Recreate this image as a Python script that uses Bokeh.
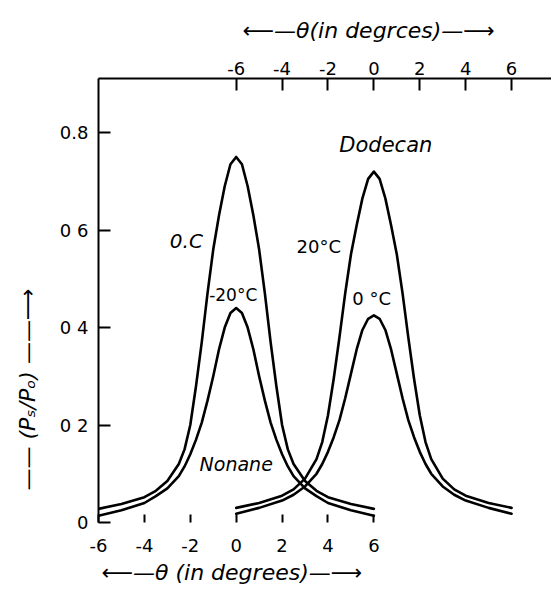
from bokeh.plotting import figure
from bokeh.models import LinearAxis, Range1d, FixedTicker, Label, Title
from bokeh.embed import file_html
from bokeh.resources import INLINE

# ---------------- data ----------------
nonane_theta = [-6, -5, -4, -3.5, -3, -2.5, -2.25, -2, -1.75, -1.5, -1.25, -1, -0.75, -0.5, -0.25, 0,
                0.25, 0.5, 0.75, 1, 1.25, 1.5, 1.75, 2, 2.25, 2.5, 3, 3.5, 4, 5, 6]
nonane_0C = [0.028, 0.038, 0.052, 0.065, 0.085, 0.12, 0.15, 0.20, 0.28, 0.37, 0.47, 0.56, 0.63, 0.69, 0.735, 0.75,
             0.735, 0.69, 0.63, 0.56, 0.47, 0.37, 0.28, 0.20, 0.15, 0.12, 0.085, 0.065, 0.052, 0.038, 0.028]
nonane_m20C = [0.014, 0.025, 0.04, 0.054, 0.07, 0.095, 0.115, 0.14, 0.17, 0.205, 0.25, 0.30, 0.355, 0.40, 0.43, 0.44,
               0.43, 0.40, 0.355, 0.30, 0.25, 0.205, 0.17, 0.14, 0.115, 0.095, 0.07, 0.054, 0.04, 0.025, 0.014]

dodecan_theta = [0, 1, 2, 2.5, 3, 3.5, 3.75, 4, 4.25, 4.5, 4.75, 5, 5.25, 5.5, 5.75, 6,
                 6.25, 6.5, 6.75, 7, 7.25, 7.5, 7.75, 8, 8.25, 8.5, 9, 9.5, 10, 11, 12]
dodecan_20C = [0.03, 0.04, 0.055, 0.068, 0.09, 0.13, 0.165, 0.22, 0.295, 0.38, 0.47, 0.55, 0.61, 0.665, 0.705, 0.72,
               0.705, 0.665, 0.61, 0.55, 0.47, 0.38, 0.295, 0.22, 0.165, 0.13, 0.09, 0.068, 0.055, 0.04, 0.03]
dodecan_0C = [0.018, 0.03, 0.045, 0.057, 0.074, 0.10, 0.12, 0.145, 0.175, 0.21, 0.255, 0.305, 0.355, 0.395, 0.418, 0.425,
              0.418, 0.395, 0.355, 0.305, 0.255, 0.21, 0.175, 0.145, 0.12, 0.10, 0.074, 0.057, 0.045, 0.03, 0.018]

bottom_ticks = [-6, -4, -2, 0, 2, 4, 6]
bottom_tick_labels = ["-6", "-4", "-2", "0", "2", "4", "6"]
top_ticks = [-6, -4, -2, 0, 2, 4, 6]
top_tick_labels = ["-6", "-4", "-2", "0", "2", "4", "6"]
y_ticks = [0, 0.2, 0.4, 0.6, 0.8]
y_tick_labels = ["0", "0 2", "0 4", "0 6", "0.8"]

# ---------------- figure ----------------
p = figure(width=551, height=590, output_backend="svg", toolbar_location=None,
           x_range=Range1d(-6, 13.74), y_range=Range1d(0, 0.911),
           x_axis_location=None, y_axis_location=None,
           min_border_left=97, min_border_right=0, min_border_top=78, min_border_bottom=68)
p.outline_line_color = None
p.grid.visible = False
p.background_fill_color = "white"
p.border_fill_color = "white"
p.extra_x_ranges = {"top": Range1d(-12, 7.74)}

FONT = "DejaVu Sans"

yax = LinearAxis(ticker=FixedTicker(ticks=y_ticks),
                 major_label_overrides={t: s for t, s in zip(y_ticks, y_tick_labels)},
                 major_tick_in=12, major_tick_out=0, minor_tick_line_color=None,
                 axis_line_width=2, major_tick_line_width=2,
                 major_label_text_font=FONT, major_label_text_font_size="18px",
                 major_label_text_color="black", major_label_standoff=10)
p.add_layout(yax, "left")

bax = LinearAxis(ticker=FixedTicker(ticks=bottom_ticks),
                 major_label_overrides={t: s for t, s in zip(bottom_ticks, bottom_tick_labels)},
                 major_tick_in=8, major_tick_out=0, minor_tick_line_color=None,
                 axis_line_color=None, major_tick_line_width=2,
                 major_label_text_font=FONT, major_label_text_font_size="18px",
                 major_label_text_color="black", major_label_standoff=16)
p.add_layout(bax, "below")

tax = LinearAxis(x_range_name="top", ticker=FixedTicker(ticks=top_ticks),
                 major_label_overrides={t: s for t, s in zip(top_ticks, top_tick_labels)},
                 major_tick_in=12, major_tick_out=0, minor_tick_line_color=None,
                 axis_line_width=2, major_tick_line_width=2,
                 major_label_text_font=FONT, major_label_text_font_size="18px",
                 major_label_text_color="black", major_label_standoff=4)
p.add_layout(tax, "above")

# axis titles as Titles (placed outside the frame)
def side_title(text, where, offset, standoff, valign):
    t = Title(text=text, align="left", vertical_align=valign, offset=offset, standoff=standoff,
              text_font=FONT, text_font_size="22px", text_font_style="italic",
              text_color="#000000")
    p.add_layout(t, where)

side_title("⟵—θ(in degrces)—⟶", "above", 144, 28, "top")
side_title("⟵—θ (in degrees)—⟶", "below", 3, 7, "bottom")
side_title("—— (Pₛ/Pₒ) ——⟶", "left", 32, 29, "top")

# ---------------- curves ----------------
for xs, ys in [(nonane_theta, nonane_0C), (nonane_theta, nonane_m20C),
               (dodecan_theta, dodecan_20C), (dodecan_theta, dodecan_0C)]:
    p.line(xs, ys, line_color="black", line_width=2.6, line_join="round", line_cap="round")

# ---------------- labels ----------------
def lab(x, y, text, size, style="italic"):
    p.add_layout(Label(x=x, y=y, text=text, text_font=FONT, text_font_size=size,
                       text_font_style=style, text_align="center", text_baseline="middle",
                       text_color="black"))

lab(-2.17, 0.578, "0.C", "20px")
lab(-0.13, 0.466, "-20°C", "17px", style="normal")
lab(3.6, 0.566, "20°C", "18px", style="normal")
lab(5.9, 0.46, "0 °C", "18px", style="normal")
lab(6.52, 0.775, "Dodecan", "21px")
lab(0.0, 0.121, "Nonane", "19px")

open("out.html", "w").write(file_html(p, INLINE))
